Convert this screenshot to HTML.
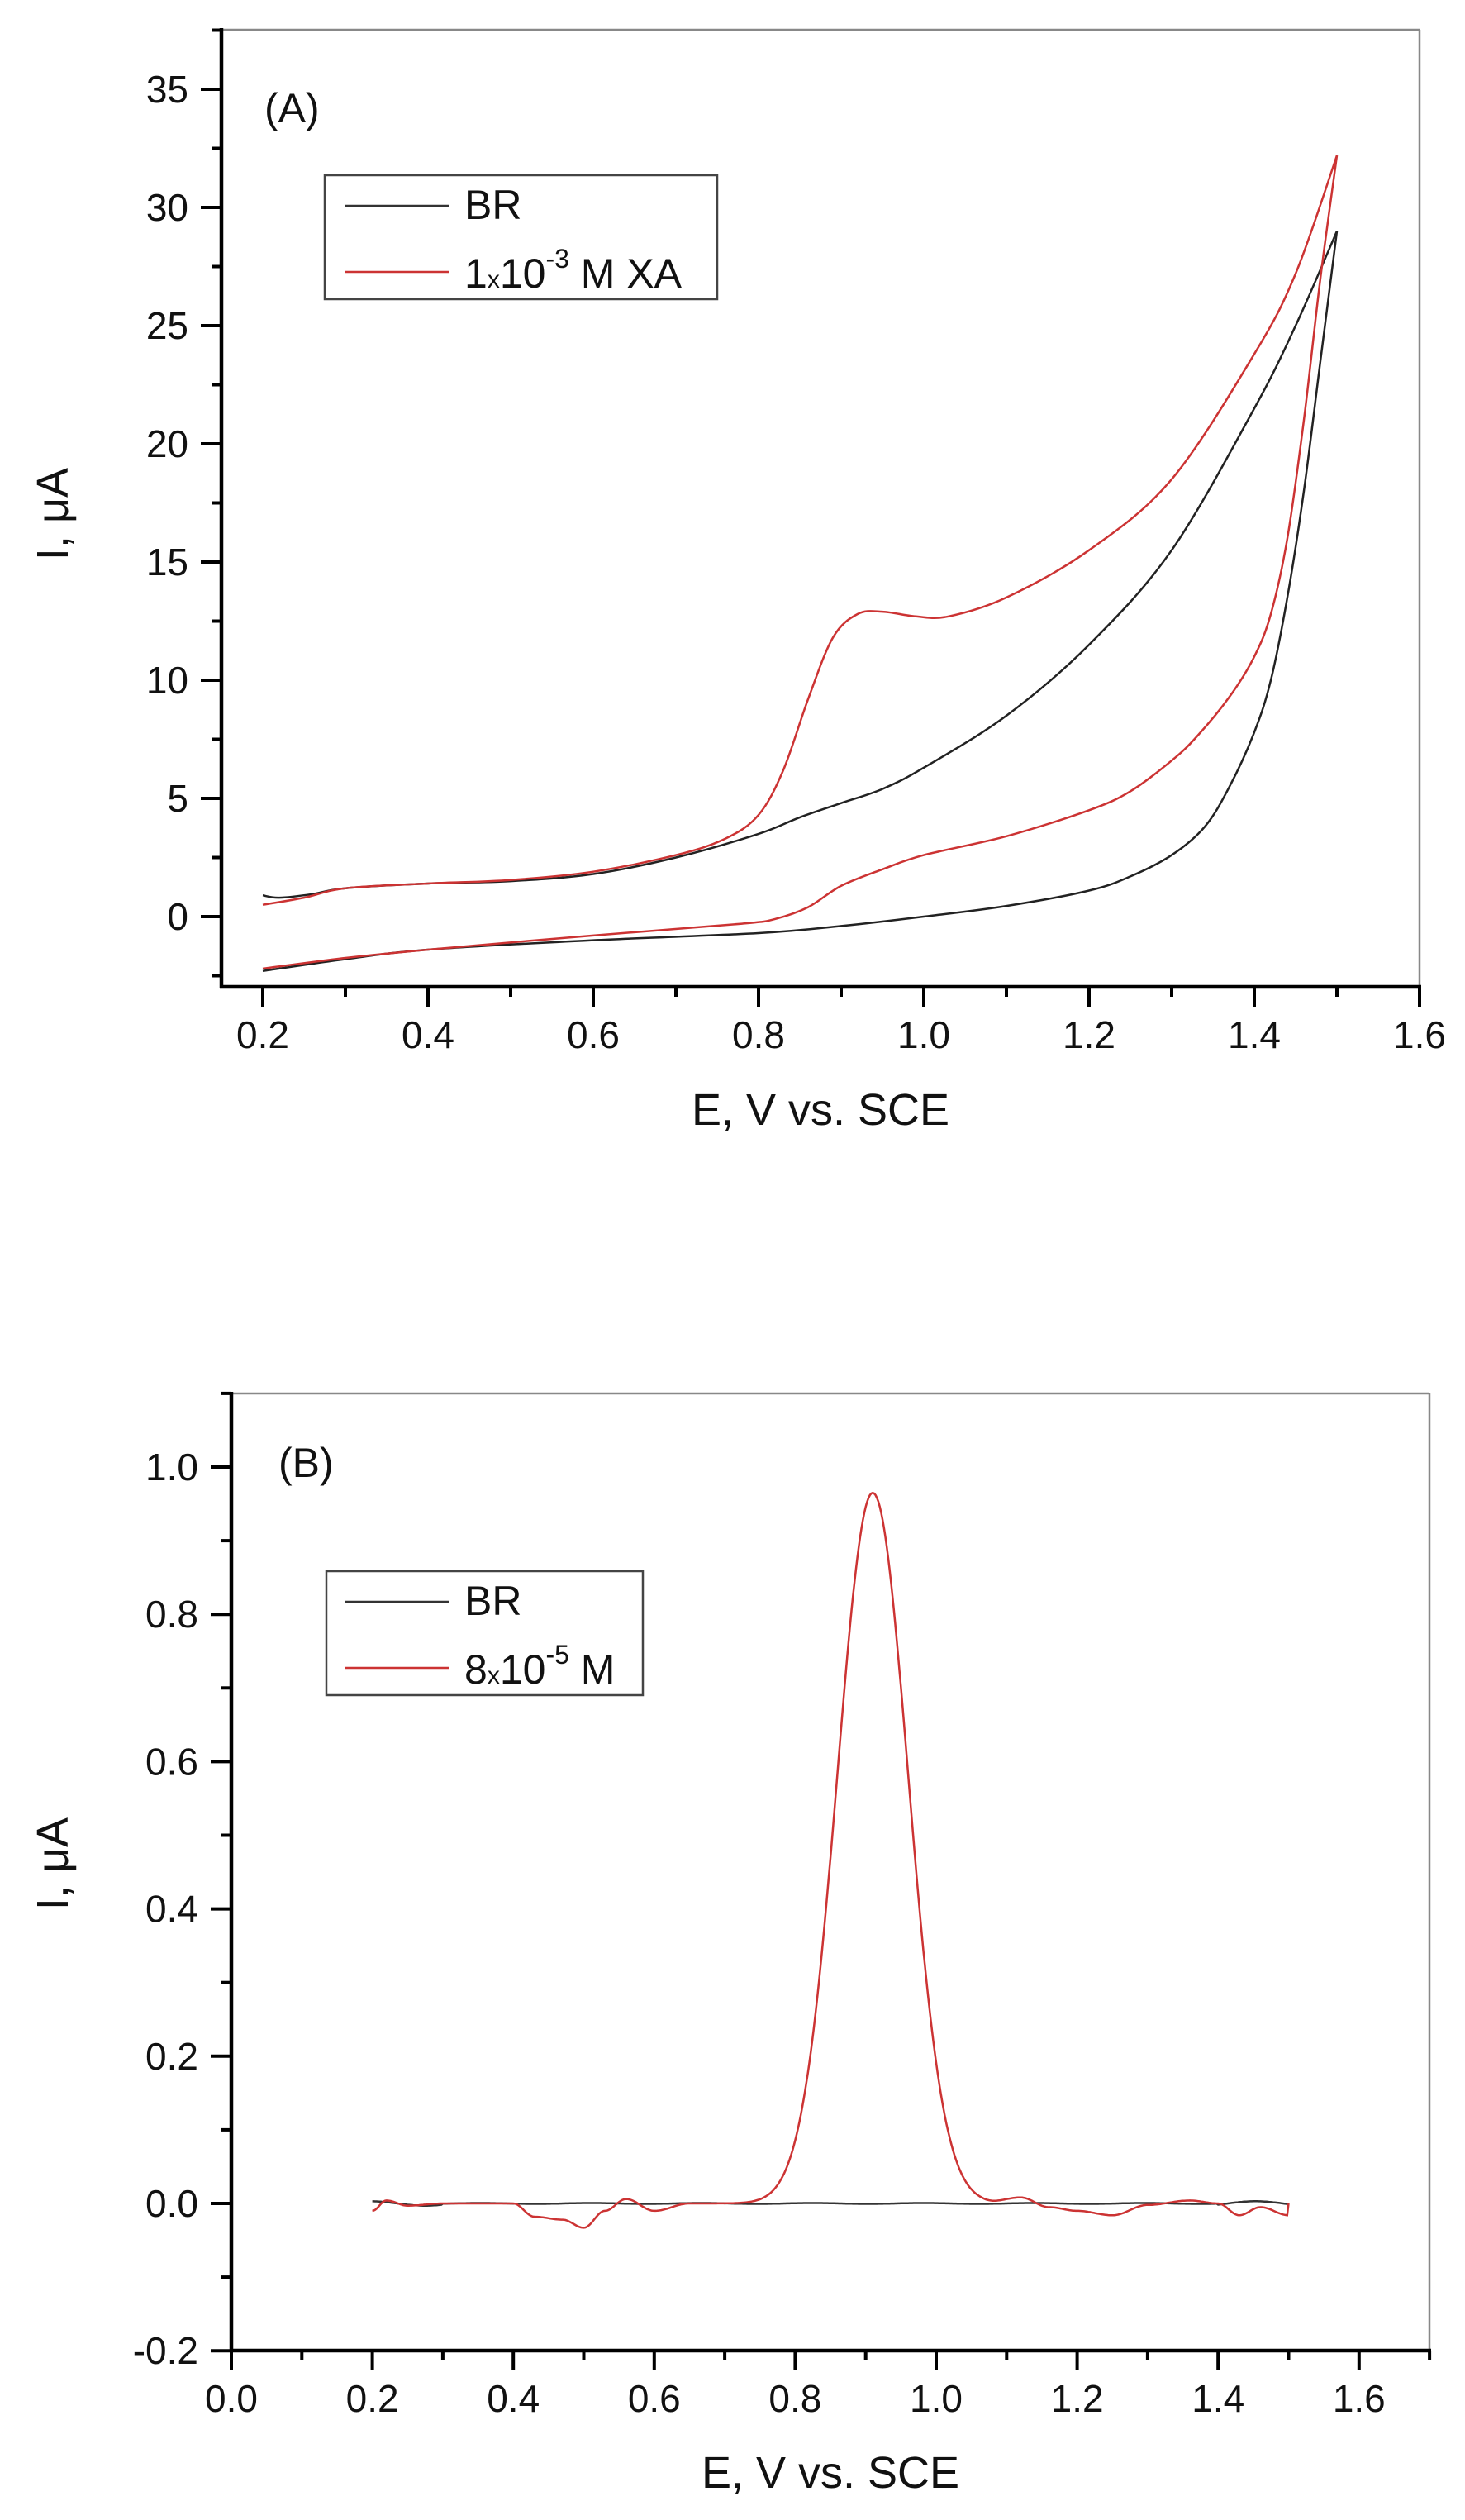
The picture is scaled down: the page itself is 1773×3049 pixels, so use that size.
<!DOCTYPE html>
<html><head><meta charset="utf-8"><style>
html,body{margin:0;padding:0;background:#fff;}
svg text{font-family:"Liberation Sans",Arial,sans-serif;fill:#111;}
</style></head><body>
<svg id="s" width="1773" height="3044" viewBox="0 0 1773 3044" xmlns="http://www.w3.org/2000/svg">
<rect width="1773" height="3044" fill="#fff"/>
<g id="A"></g>
<g id="B"></g>
<!-- Panel A texts -->
<text x="320" y="148" font-size="50">(A)</text>
<rect x="393" y="212" width="475" height="150" fill="#fff" stroke="#444" stroke-width="2.5"/>
<line x1="418" y1="249" x2="544" y2="249" stroke="#333" stroke-width="2.5"/>
<line x1="418" y1="329" x2="544" y2="329" stroke="#c33" stroke-width="2.5"/>
<text x="562" y="265" font-size="50">BR</text>
<text x="562" y="348" font-size="50">1<tspan font-size="30">x</tspan>10<tspan font-size="32" dy="-24">-3</tspan><tspan dy="24"> M XA</tspan></text>
<text transform="translate(82,622) rotate(-90)" font-size="54" text-anchor="middle">I, μA</text>
<text x="993" y="1361" font-size="54" text-anchor="middle">E, V vs. SCE</text>
<!-- Panel B texts -->
<text x="337" y="1787" font-size="50">(B)</text>
<rect x="395" y="1901" width="383" height="150" fill="#fff" stroke="#444" stroke-width="2.5"/>
<line x1="418" y1="1938" x2="544" y2="1938" stroke="#333" stroke-width="2.5"/>
<line x1="418" y1="2018" x2="544" y2="2018" stroke="#c33" stroke-width="2.5"/>
<text x="562" y="1954" font-size="50">BR</text>
<text x="562" y="2037" font-size="50">8<tspan font-size="30">x</tspan>10<tspan font-size="32" dy="-24">-5</tspan><tspan dy="24"> M</tspan></text>
<text transform="translate(82,2255) rotate(-90)" font-size="54" text-anchor="middle">I, μA</text>
<text x="1005" y="3010" font-size="54" text-anchor="middle">E, V vs. SCE</text>
</svg>
<script>
var NS="http://www.w3.org/2000/svg";
function el(p,t,a){var e=document.createElementNS(NS,t);for(var k in a)e.setAttribute(k,a[k]);p.appendChild(e);return e;}
function cr(pts){var d="M"+pts[0][0].toFixed(1)+","+pts[0][1].toFixed(1);
 for(var i=0;i<pts.length-1;i++){var p0=pts[i-1]||pts[i],p1=pts[i],p2=pts[i+1],p3=pts[i+2]||p2;
 var c1=[p1[0]+(p2[0]-p0[0])/6,p1[1]+(p2[1]-p0[1])/6],c2=[p2[0]-(p3[0]-p1[0])/6,p2[1]-(p3[1]-p1[1])/6];
 d+="C"+c1[0].toFixed(1)+","+c1[1].toFixed(1)+" "+c2[0].toFixed(1)+","+c2[1].toFixed(1)+" "+p2[0].toFixed(1)+","+p2[1].toFixed(1);}
 return d;}
function axes(g,o){
 var X=o.X,Y=o.Y;
 el(g,"line",{x1:o.L,y1:o.T,x2:o.R,y2:o.T,stroke:"#888","stroke-width":2.5});
 el(g,"line",{x1:o.R,y1:o.T,x2:o.R,y2:o.Bt,stroke:"#888","stroke-width":2.5});
 el(g,"line",{x1:o.L,y1:o.T-2,x2:o.L,y2:o.Bt+2,stroke:"#000","stroke-width":4.5});
 el(g,"line",{x1:o.L-2,y1:o.Bt,x2:o.R+2,y2:o.Bt,stroke:"#000","stroke-width":4.5});
 o.xt.forEach(function(v,i){var x=X(v),maj=o.xmaj(i);
  el(g,"line",{x1:x,y1:o.Bt,x2:x,y2:o.Bt+(maj?24:12),stroke:"#000","stroke-width":4});
  if(maj&&o.xlab(v)!==null){var t=el(g,"text",{x:x,y:o.xly,"font-size":46,"text-anchor":"middle"});t.textContent=o.xlab(v);}});
 o.yt.forEach(function(v,i){var y=Y(v),maj=o.ymaj(i);
  el(g,"line",{x1:o.L,y1:y,x2:o.L-(maj?25:12),y2:y,stroke:"#000","stroke-width":4});
  if(maj){var t=el(g,"text",{x:o.L-40,y:y+16,"font-size":46,"text-anchor":"end"});t.textContent=o.ylab(v);}});
}
// Panel A
(function(){
 var g=document.getElementById("A");
 var X=function(v){return 318+(v-0.2)*1000;},Y=function(v){return 1109-v*28.6;};
 var xt=[],yt=[];for(var i=0;i<=14;i++)xt.push(0.2+i*0.1);for(var j=-1;j<=15;j++)yt.push(j*2.5);
 axes(g,{X:X,Y:Y,L:268,R:1718,T:36,Bt:1194,xt:xt,yt:yt,xmaj:function(i){return i%2==0;},ymaj:function(i){return (i+1)%2==0;},
  xlab:function(v){return v.toFixed(1);},ylab:function(v){return Math.round(v)+"";},xly:1268});
 function P(a){return a.map(function(p){return [X(p[0]),Y(p[1])];});}
 var brF=[[0.2,0.9],[0.22,0.8],[0.26,0.95],[0.3,1.2],[0.4,1.4],[0.5,1.5],[0.6,1.8],[0.7,2.5],[0.8,3.5],[0.85,4.2],[0.9,4.8],[0.95,5.4],[1.0,6.3],[1.1,8.5],[1.2,11.5],[1.3,15.5],[1.4,21.5],[1.45,25],[1.5,29]];
 var brR=[[1.5,29],[1.48,23.5],[1.46,18],[1.44,13.5],[1.42,10],[1.4,7.8],[1.37,5.5],[1.34,3.8],[1.3,2.6],[1.25,1.7],[1.2,1.1],[1.1,0.45],[1.0,0],[0.9,-0.4],[0.8,-0.7],[0.6,-1.0],[0.4,-1.4],[0.3,-1.8],[0.2,-2.3]];
 var rF=[[0.2,0.5],[0.25,0.8],[0.3,1.2],[0.4,1.4],[0.5,1.55],[0.6,1.9],[0.7,2.6],[0.76,3.3],[0.8,4.3],[0.83,6.2],[0.86,9.2],[0.89,11.8],[0.92,12.8],[0.95,12.9],[0.99,12.7],[1.03,12.7],[1.1,13.5],[1.2,15.5],[1.3,18.5],[1.4,23.8],[1.45,27.2],[1.5,32.2]];
 var rR=[[1.5,32.2],[1.48,27],[1.46,21],[1.44,16],[1.42,12.8],[1.4,11],[1.37,9.3],[1.33,7.6],[1.3,6.6],[1.25,5.3],[1.2,4.5],[1.1,3.4],[1.0,2.6],[0.95,2.0],[0.9,1.3],[0.86,0.4],[0.82,-0.1],[0.78,-0.3],[0.6,-0.8],[0.4,-1.4],[0.3,-1.75],[0.2,-2.2]];
 [brF,brR].forEach(function(a){el(g,"path",{d:cr(P(a)),fill:"none",stroke:"#222","stroke-width":2.5});});
 [rF,rR].forEach(function(a){el(g,"path",{d:cr(P(a)),fill:"none",stroke:"#c33","stroke-width":2.5});});
})();
// Panel B
(function(){
 var g=document.getElementById("B");
 var X=function(v){return 280+v*853;},Y=function(v){return 1775-(v-1.0)*891;};
 var xt=[],yt=[];for(var i=0;i<=17;i++)xt.push(i*0.1);for(var j=-2;j<=11;j++)yt.push(j*0.1);
 axes(g,{X:X,Y:Y,L:280,R:1730,T:1686,Bt:2844,xt:xt,yt:yt,xmaj:function(i){return i%2==0;},ymaj:function(i){return i%2==0;},
  xlab:function(v){return v.toFixed(1);},ylab:function(v){return v.toFixed(1);},xly:2918});
 var rip=[[0.2,-0.01],[0.22,0.004],[0.25,-0.003],[0.3,0],[0.4,0],[0.43,-0.018],[0.47,-0.022],[0.5,-0.033],[0.53,-0.01],[0.56,0.006],[0.6,-0.01],[0.65,0],[0.75,0],[1.07,0],[1.12,0.008],[1.16,-0.005],[1.2,-0.01],[1.25,-0.016],[1.3,-0.002],[1.36,0.004],[1.4,0],[1.43,-0.016],[1.46,-0.005],[1.5,-0.016]];
 function base(x){for(var k=0;k<rip.length-1;k++){if(x>=rip[k][0]&&x<=rip[k+1][0]){var t=(x-rip[k][0])/(rip[k+1][0]-rip[k][0]);t=(1-Math.cos(Math.PI*t))/2;return rip[k][1]+t*(rip[k+1][1]-rip[k][1]);}}return 0;}
 var d="",d2="";
 for(var x=0.2;x<=1.5001;x+=0.002){var y=base(x)+0.965*Math.exp(-Math.pow(x-0.91,2)/(2*0.05*0.05));
  d+=(d?"L":"M")+X(x).toFixed(1)+","+Y(y).toFixed(1);
  var yb=0.003*Math.sin(x*40)*(x<0.3||x>1.4?1:0.2);
  d2+=(d2?"L":"M")+X(x).toFixed(1)+","+Y(yb).toFixed(1);}
 el(g,"path",{d:d2,fill:"none",stroke:"#333","stroke-width":2.5});
 el(g,"path",{d:d,fill:"none",stroke:"#c33","stroke-width":2.5});
})();
</script>
</body></html>
